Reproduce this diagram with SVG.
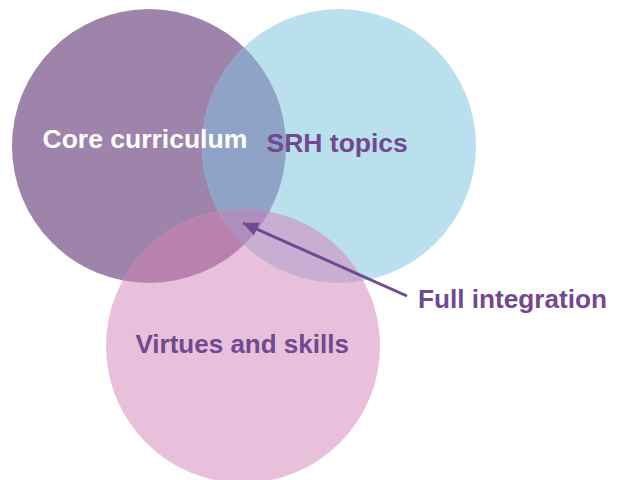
<svg xmlns="http://www.w3.org/2000/svg" width="623" height="480" viewBox="0 0 623 480">
  <style>
    .lbl { font-family: "Liberation Sans", Arial, sans-serif; font-weight: bold; font-size: 26px; }
    .big { font-size: 26.5px; }
    .purple { fill: #704990; }
    .white { fill: #ffffff; }
    .conn { stroke: #704990; stroke-width: 3; fill: none; }
  </style>
  <defs>
    <clipPath id="clipCore"><circle cx="149" cy="146" r="137"/></clipPath>
    <clipPath id="clipSRH"><circle cx="339" cy="146" r="137"/></clipPath>
    <clipPath id="clipVirt"><circle cx="243" cy="346" r="137"/></clipPath>
    <marker id="arrow" viewBox="-16 -8 17 16" refX="0" refY="0" markerWidth="17" markerHeight="16" markerUnits="userSpaceOnUse" orient="auto">
      <path d="M0,0 L-15,-7 L-15,7 Z" fill="#704990"/>
    </marker>
  </defs>
  <rect width="623" height="480" fill="#ffffff"/>

  <g id="core-curriculum">
    <circle cx="149" cy="146" r="137" fill="#9e83ab"/>
  </g>
  <g id="srh-topics">
    <circle cx="339" cy="146" r="137" fill="#bae0ee"/>
  </g>
  <g id="virtues-and-skills">
    <circle cx="243" cy="346" r="137" fill="#e9c0dc"/>
  </g>

  <g id="overlaps">
    <g clip-path="url(#clipCore)">
      <circle cx="339" cy="146" r="137" fill="#8ea3c6"/>
      <circle cx="243" cy="346" r="137" fill="#b981ae"/>
    </g>
    <g clip-path="url(#clipSRH)">
      <circle cx="243" cy="346" r="137" fill="#c8aed2"/>
    </g>
    <g clip-path="url(#clipCore)">
      <g clip-path="url(#clipSRH)">
        <circle cx="243" cy="346" r="137" fill="#ad8fbd"/>
      </g>
    </g>
  </g>

  <g id="labels">
    <text class="lbl big white" x="42.5" y="148">Core curriculum</text>
    <text class="lbl big purple" x="266.5" y="152">SRH topics</text>
    <text class="lbl purple" x="135.5" y="353">Virtues and skills</text>
  </g>

  <g id="full-integration">
    <text class="lbl purple" x="418" y="308" textLength="189" lengthAdjust="spacingAndGlyphs">Full integration</text>
  </g>

  <g id="connectors">
    <line class="conn" x1="407" y1="296" x2="243" y2="223" marker-end="url(#arrow)"/>
  </g>
</svg>
